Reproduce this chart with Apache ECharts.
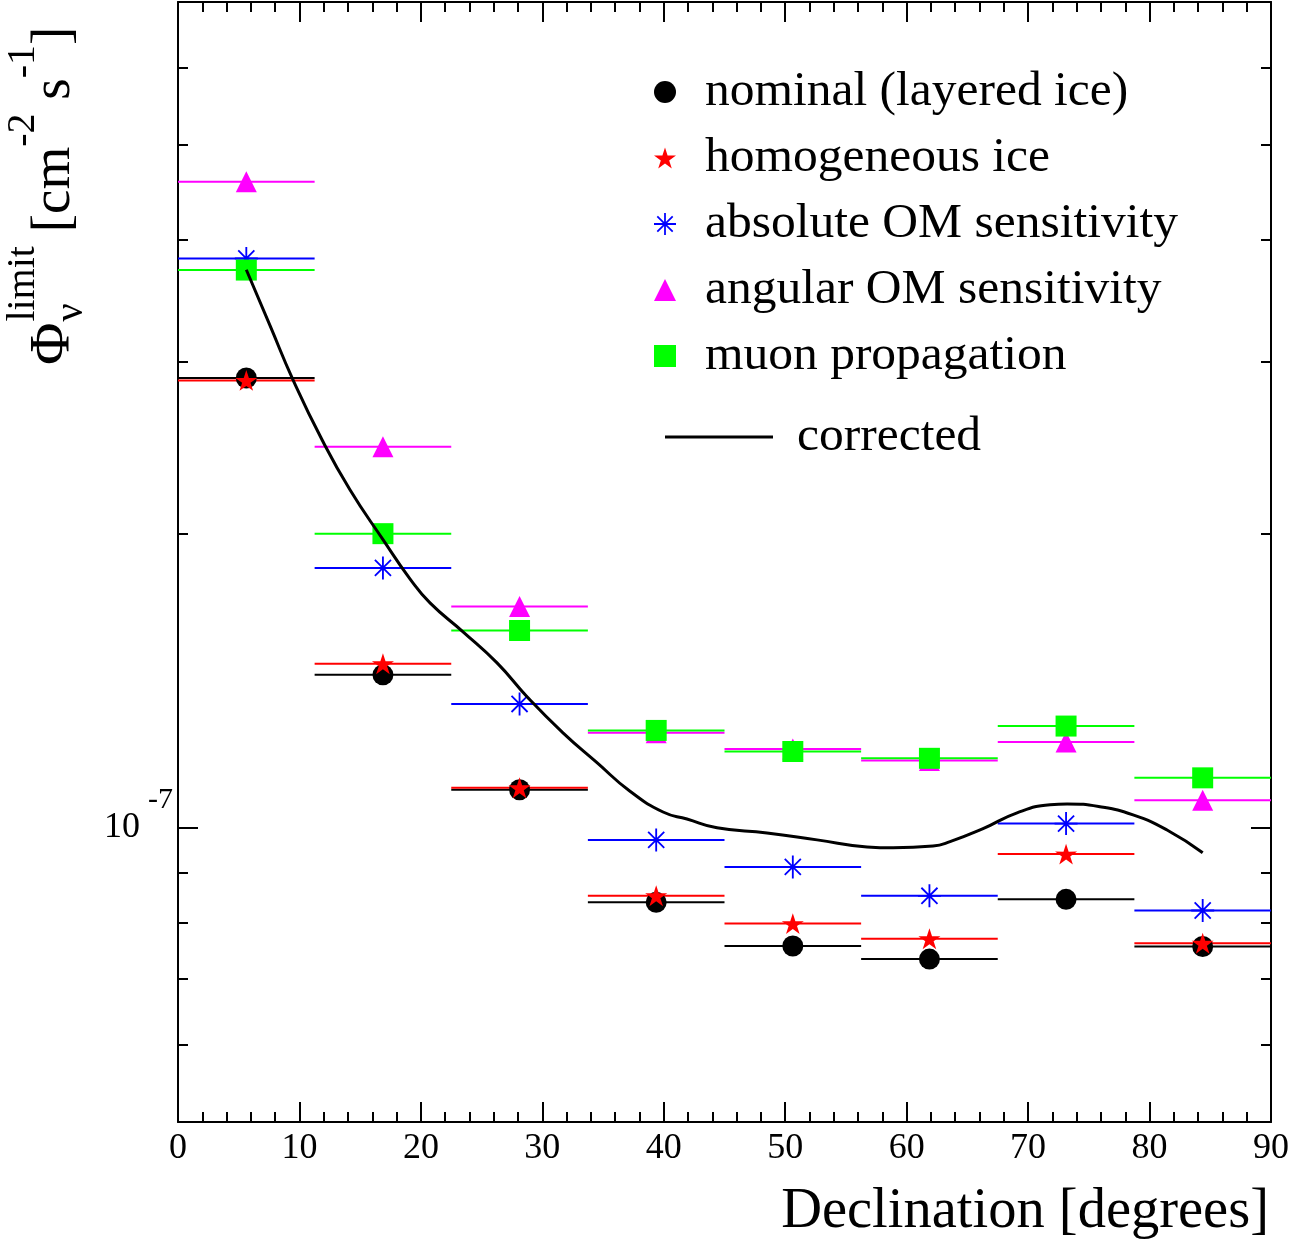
<!DOCTYPE html>
<html>
<head>
<meta charset="utf-8">
<script src="https://cdn.jsdelivr.net/npm/echarts@6/dist/echarts.min.js"></script>
<style>
html,body{margin:0;padding:0;background:#ffffff;}
#chart{width:1298px;height:1244px;}
</style>
</head>
<body>
<div id="chart"></div>
<script>
// ---------------- data ----------------
const binEdges   = [0, 11.25, 22.5, 33.75, 45, 56.25, 67.5, 78.75, 90];
const binCenters = [5.625, 16.875, 28.125, 39.375, 50.625, 61.875, 73.125, 84.375];

const nominal     = [2.886e-7, 1.434e-7, 1.094e-7, 0.839e-7, 0.757e-7, 0.734e-7, 0.845e-7, 0.756e-7];
const homogeneous = [2.870e-7, 1.472e-7, 1.099e-7, 0.852e-7, 0.798e-7, 0.770e-7, 0.940e-7, 0.762e-7];
const absoluteOM  = [3.825e-7, 1.845e-7, 1.339e-7, 0.972e-7, 0.912e-7, 0.852e-7, 1.010e-7, 0.823e-7];
const angularOM   = [4.584e-7, 2.455e-7, 1.685e-7, 1.251e-7, 1.204e-7, 1.172e-7, 1.224e-7, 1.067e-7];
const muonProp    = [3.722e-7, 2.000e-7, 1.592e-7, 1.258e-7, 1.197e-7, 1.178e-7, 1.271e-7, 1.125e-7];

const correctedX = [5.625, 7.58, 9.47, 11.86, 14.16, 16.88, 19.10, 20.75, 23.47, 26.27, 28.74, 31.70,
                    34.50, 37.22, 39.94, 41.91, 44.38, 48.50, 52.62, 56.74, 58.88, 62.17, 63.57, 66.29,
                    69.09, 71.81, 73.21, 75.92, 78.64, 81.44, 84.375];
const correctedY = [3.725e-7, 3.265e-7, 2.874e-7, 2.495e-7, 2.218e-7, 1.972e-7, 1.798e-7, 1.699e-7,
                    1.587e-7, 1.475e-7, 1.362e-7, 1.251e-7, 1.166e-7, 1.090e-7, 1.038e-7, 1.021e-7,
                    1.000e-7, 0.988e-7, 0.972e-7, 0.956e-7, 0.954e-7, 0.958e-7, 0.968e-7, 0.998e-7,
                    1.036e-7, 1.056e-7, 1.058e-7, 1.051e-7, 1.031e-7, 0.995e-7, 0.943e-7];

const seriesNames = ['nominal (layered ice)', 'homogeneous ice', 'absolute OM sensitivity',
                     'angular OM sensitivity', 'muon propagation'];
const correctedName = 'corrected';

const xTickLabels = [0, 10, 20, 30, 40, 50, 60, 70, 80, 90];
const yMajorTicks = [1e-7];
const yMinorTicks = [6e-8, 7e-8, 8e-8, 9e-8, 2e-7, 3e-7, 4e-7, 5e-7, 6e-7];
const yMin = 5e-8, yMax = 7e-7;

// ---------------- styles ----------------
const FONT = 'Liberation Serif';
const colors = ['#000000', '#ff0000', '#0000ff', '#ff00ff', '#00ff00'];
const STAR = 'path://M50,0 L61.17,34.63 L97.55,34.55 L68.07,55.87 L79.39,90.45 L50,69 L20.61,90.45 L31.93,55.87 L2.45,34.55 L38.83,34.63 Z';
const ASTER = 'path://M46,0 L54,0 L54,100 L46,100 Z M0,46 L100,46 L100,54 L0,54 Z ' +
              'M12.2,17.8 L17.8,12.2 L87.8,82.2 L82.2,87.8 Z M82.2,12.2 L87.8,17.8 L17.8,87.8 L12.2,82.2 Z';
const symbols = ['circle', STAR, ASTER, 'triangle', 'rect'];
const symbolSizes = [21, 22, 23, 21, 21];
const valueSets = [nominal, homogeneous, absoluteOM, angularOM, muonProp];

// ---------------- series ----------------
const series = [];
valueSets.forEach(function (vals, k) {
  const color = colors[k];
  series.push({
    name: seriesNames[k] + ' bins',
    type: 'custom',
    xAxisIndex: 0, yAxisIndex: 0,
    encode: { x: 0, y: 1 },
    data: vals.map(function (v, i) { return [binCenters[i], v, binEdges[i], binEdges[i + 1]]; }),
    renderItem: function (params, api) {
      const v = api.value(1);
      const p0 = api.coord([api.value(2), v]);
      const p1 = api.coord([api.value(3), v]);
      return { type: 'line', shape: { x1: p0[0], y1: p0[1], x2: p1[0], y2: p1[1] },
               style: { stroke: color, lineWidth: 2 } };
    },
    silent: true
  });
  series.push({
    name: seriesNames[k],
    type: 'scatter',
    xAxisIndex: 0, yAxisIndex: 0,
    symbol: symbols[k],
    symbolSize: symbolSizes[k],
    symbolKeepAspect: true,
    itemStyle: { color: color, opacity: 1 },
    data: vals.map(function (v, i) { return [binCenters[i], v]; })
  });
});
series.push({
  name: correctedName,
  type: 'line',
  xAxisIndex: 0, yAxisIndex: 0,
  smooth: 0.5,
  symbol: 'none',
  lineStyle: { color: '#000000', width: 3 },
  itemStyle: { color: '#000000' },
  data: correctedX.map(function (x, i) { return [x, correctedY[i]]; })
});

// ---------------- y title (rotated, with super/subscripts) ----------------
const mctx = document.createElement('canvas').getContext('2d');
function tw(t, s) { mctx.font = s + 'px "' + FONT + '"'; return mctx.measureText(t).width; }
const MAIN = 55, PHI = 58, SUP = 40, SUPB = -36, SUBB = 12;
function tEl(text, x, base, size) {
  return { type: 'text', x: x, y: base - 0.34 * size,
           style: { text: text, fontSize: size, fontFamily: FONT, fill: '#000', align: 'left', verticalAlign: 'middle' } };
}
const yTitle = [];
let cx = 0;
yTitle.push(tEl('\u03A6', cx, 0, PHI)); cx += tw('\u03A6', PHI) + 1;
yTitle.push(tEl('limit', cx, SUPB, SUP));
yTitle.push(tEl('\u03BD', cx, SUBB, SUP));
cx += Math.max(tw('limit', SUP), tw('\u03BD', SUP));
yTitle.push(tEl(' [cm', cx, 0, MAIN)); cx += tw(' [cm', MAIN);
yTitle.push(tEl('-2', cx, SUPB, SUP)); cx += tw('-2', SUP);
yTitle.push(tEl(' s', cx, 0, MAIN)); cx += tw(' s', MAIN);
yTitle.push(tEl('-1', cx, SUPB, SUP)); cx += tw('-1', SUP);
yTitle.push(tEl(']', cx, 0, MAIN));

// ---------------- axes ----------------
function yAxisDef(pos, major, withLabel, show) {
  return {
    type: 'log', logBase: 10, min: yMin, max: yMax, position: pos,
    axisLine: { show: show, onZero: false, lineStyle: { color: '#000', width: 2 } },
    axisTick: { show: true, inside: true, length: major ? 20 : 10,
                customValues: major ? yMajorTicks : yMinorTicks,
                lineStyle: { color: '#000', width: 2 } },
    axisLabel: withLabel ? {
      show: true, customValues: yMajorTicks, margin: 5, color: '#000',
      formatter: function (v) { const e = Math.round(Math.log10(v)); const m = v / Math.pow(10, e);
        return (Math.abs(m - 1) < 1e-9 ? '' : m + '\u00d7') + '{b|10}{s|' + e + '}'; },
      rich: {
        b: { fontSize: 36, fontFamily: FONT, color: '#000', verticalAlign: 'middle' },
        s: { fontSize: 30, fontFamily: FONT, color: '#000', verticalAlign: 'middle', padding: [0, 0, 56, 8] }
      }
    } : { show: false },
    splitLine: { show: false }, minorTick: { show: false }, minorSplitLine: { show: false }
  };
}
function xAxisDef(pos, withLabel) {
  return {
    type: 'value', min: 0, max: 90, interval: 10, position: pos,
    axisLine: { show: true, onZero: false, lineStyle: { color: '#000', width: 2 } },
    axisTick: { show: true, inside: true, length: 20, lineStyle: { color: '#000', width: 2 } },
    minorTick: { show: true, splitNumber: 5, length: 10, lineStyle: { color: '#000', width: 2 } },
    axisLabel: withLabel ? {
      show: true, margin: 9, fontSize: 36, fontFamily: FONT, color: '#000',
      customValues: xTickLabels
    } : { show: false },
    splitLine: { show: false },
    name: withLabel ? 'Declination [degrees]' : '',
    nameLocation: 'end',
    nameGap: -2,
    nameTextStyle: { fontSize: 56.5, fontFamily: FONT, color: '#000', align: 'right', verticalAlign: 'top', padding: [62, 0, 0, 0] }
  };
}

const chart = echarts.init(document.getElementById('chart'), null, { renderer: 'canvas' });
chart.setOption({
  animation: false,
  backgroundColor: '#ffffff',
  grid: { left: 178, right: 27, top: 2, bottom: 122, containLabel: false },
  xAxis: [xAxisDef('bottom', true), xAxisDef('top', false)],
  yAxis: [yAxisDef('left', true, true, true), yAxisDef('left', false, false, false),
          yAxisDef('right', true, false, true), yAxisDef('right', false, false, false)],
  legend: [{
    data: seriesNames, orient: 'vertical', left: 654, top: 67, padding: 0,
    itemWidth: 22, itemHeight: 22, itemGap: 16, selectedMode: false,
    textStyle: { fontSize: 49.5, fontFamily: FONT, color: '#000', lineHeight: 50, padding: [0, 0, 0, 24] }
  }, {
    data: [{ name: correctedName, icon: 'rect' }], orient: 'vertical', left: 665, top: 412, padding: 0,
    itemWidth: 108, itemHeight: 3, selectedMode: false,
    itemStyle: { color: '#000000' },
    textStyle: { fontSize: 49.5, fontFamily: FONT, color: '#000', lineHeight: 50, padding: [0, 0, 0, 19] }
  }],
  graphic: [{ type: 'group', x: 73, y: 365, rotation: Math.PI / 2, children: yTitle }],
  series: series
});
</script>
</body>
</html>
